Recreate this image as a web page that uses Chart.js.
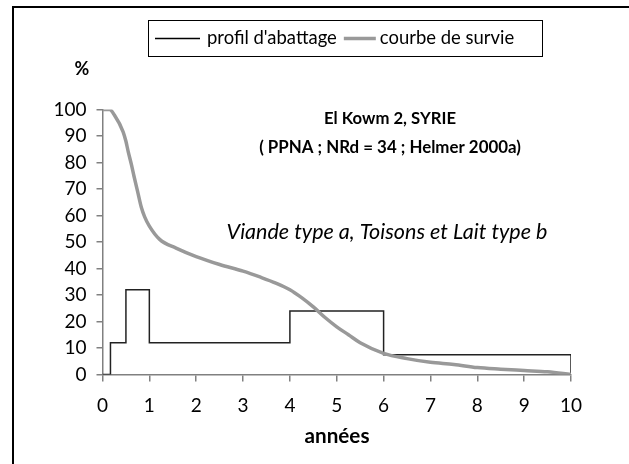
<!DOCTYPE html>
<html>
<head>
<meta charset="utf-8">
<script src="https://cdn.jsdelivr.net/npm/chart.js@4.4.0/dist/chart.umd.min.js"></script>
<style>
html,body{margin:0;padding:0;background:#fff;}
#wrap{width:629px;height:464px;position:relative;}
</style>
</head>
<body>
<div id="wrap"><canvas id="c" width="629" height="464"></canvas></div>
<script>
// ---- data ----
const seriesLabels = ["profil d'abattage", "courbe de survie"];
const profilAge = [0, 0.17, 0.17, 0.5, 0.5, 1, 1, 4, 4, 6, 6, 10, 10];
const profilVal = [0, 0, 12, 12, 32, 32, 12, 12, 24, 24, 7.5, 7.5, 0];
const survieAge = [0, 0.15, 0.25, 0.44, 0.5, 0.55, 0.62, 0.67, 0.75, 0.83, 0.9, 1, 1.22, 1.57, 2, 2.5, 3, 3.36, 3.7, 4, 4.25, 4.5, 4.75, 5, 5.25, 5.5, 6, 6.5, 7, 7.5, 8, 8.5, 9, 9.5, 10];
const survieVal = [100, 100, 98, 91.6, 88, 84, 79, 75, 69, 63, 59.5, 56, 51, 47.7, 44.5, 41.5, 39, 36.8, 34.5, 32, 29, 25.5, 21.5, 18, 15, 12, 8, 6, 4.6, 3.8, 2.6, 2, 1.5, 1, 0];
const xTicks = [0,1,2,3,4,5,6,7,8,9,10];
const yTicks = [0,10,20,30,40,50,60,70,80,90,100];
const titleLines = ["El Kowm 2, SYRIE", "( PPNA ; NRd = 34 ; Helmer 2000a)"];
const subtitle = "Viande type a, Toisons et Lait type b";
const xTitle = "années";
const yTitle = "%";

const FONT = "Lato, 'Open Sans', sans-serif";
const toPts = (xs, ys) => xs.map((x, i) => ({x: x, y: ys[i]}));

// set a font so that the text spans the wanted width
function fitFont(ctx, text, style, width) {
  ctx.font = style + " 20px " + FONT;
  const w = ctx.measureText(text).width;
  const size = 20 * width / w;
  ctx.font = style + " " + size.toFixed(2) + "px " + FONT;
  return size;
}

const decor = {
  id: 'decor',
  beforeDraw(chart) {
    const ctx = chart.ctx;
    ctx.save();
    ctx.fillStyle = '#fff';
    ctx.fillRect(0, 0, chart.width, chart.height);
    ctx.strokeStyle = '#000';
    ctx.lineWidth = 2;
    ctx.strokeRect(13, 7, 800, 800);
    ctx.restore();
  },
  afterDraw(chart) {
    const ctx = chart.ctx;
    ctx.save();
    ctx.fillStyle = '#000';
    ctx.textAlign = 'center';
    ctx.textBaseline = 'middle';
    // titles
    fitFont(ctx, titleLines[0], "bold", 132);
    ctx.fillText(titleLines[0], 390, 119);
    fitFont(ctx, titleLines[1], "bold", 262);
    ctx.fillText(titleLines[1], 390, 148);
    fitFont(ctx, subtitle, "italic", 321);
    ctx.fillText(subtitle, 387, 232);
    // axis titles
    fitFont(ctx, xTitle, "bold", 65);
    ctx.fillText(xTitle, 337, 436);
    ctx.font = "bold 18px " + FONT;
    ctx.fillText(yTitle, 82, 69);
    // legend
    const bx = 148, by = 20, bw = 394, bh = 36;
    ctx.lineWidth = 1;
    ctx.strokeStyle = '#000';
    ctx.strokeRect(bx + 0.5, by + 0.5, bw, bh);
    const ly = by + bh / 2 + 0.5;
    ctx.beginPath();
    ctx.moveTo(155, ly); ctx.lineTo(200, ly);
    ctx.strokeStyle = '#000'; ctx.lineWidth = 1.5; ctx.stroke();
    ctx.textAlign = 'left';
    fitFont(ctx, seriesLabels[0], "", 130);
    ctx.fillText(seriesLabels[0], 207, ly);
    const end1 = 207 + ctx.measureText(seriesLabels[0]).width;
    const s2 = end1 + 7;
    ctx.beginPath();
    ctx.moveTo(s2, ly); ctx.lineTo(s2 + 32, ly);
    ctx.strokeStyle = '#999'; ctx.lineWidth = 3.5; ctx.stroke();
    ctx.fillText(seriesLabels[1], s2 + 36, ly);
    ctx.restore();
  }
};

new Chart(document.getElementById('c'), {
  type: 'scatter',
  data: {
    datasets: [
      {
        label: seriesLabels[1],
        data: toPts(survieAge, survieVal),
        showLine: true,
        borderColor: '#999999',
        borderWidth: 3.5,
        pointRadius: 0,
        cubicInterpolationMode: 'monotone',
        fill: false
      },
      {
        label: seriesLabels[0],
        data: toPts(profilAge, profilVal),
        showLine: true,
        borderColor: '#222222',
        borderWidth: 1.5,
        pointRadius: 0,
        tension: 0,
        fill: false
      }
    ]
  },
  options: {
    responsive: false,
    animation: false,
    devicePixelRatio: 1,
    layout: { padding: { left: 0, right: 58, top: 109.5, bottom: 0 } },
    plugins: { legend: { display: false }, tooltip: { enabled: false }, title: { display: false } },
    scales: {
      x: {
        type: 'linear', min: 0, max: 10,
        afterFit: s => { s.height = 89.5; },
        afterBuildTicks: s => { s.ticks = xTicks.map(v => ({value: v})); },
        grid: { drawOnChartArea: false, drawTicks: true, tickLength: 7, color: '#808080', lineWidth: 1.5 },
        border: { color: '#808080', width: 1.5 },
        ticks: { color: '#000', font: { family: FONT, size: 19 }, padding: 13, maxRotation: 0 }
      },
      y: {
        type: 'linear', min: 0, max: 100,
        afterFit: s => { s.width = 102.5; },
        afterBuildTicks: s => { s.ticks = yTicks.map(v => ({value: v})); },
        grid: { drawOnChartArea: false, drawTicks: true, tickLength: 6, color: '#808080', lineWidth: 1.5 },
        border: { color: '#808080', width: 1.5 },
        ticks: { color: '#000', font: { family: FONT, size: 19 }, padding: 10 }
      }
    }
  },
  plugins: [decor]
});
</script>
</body>
</html>
